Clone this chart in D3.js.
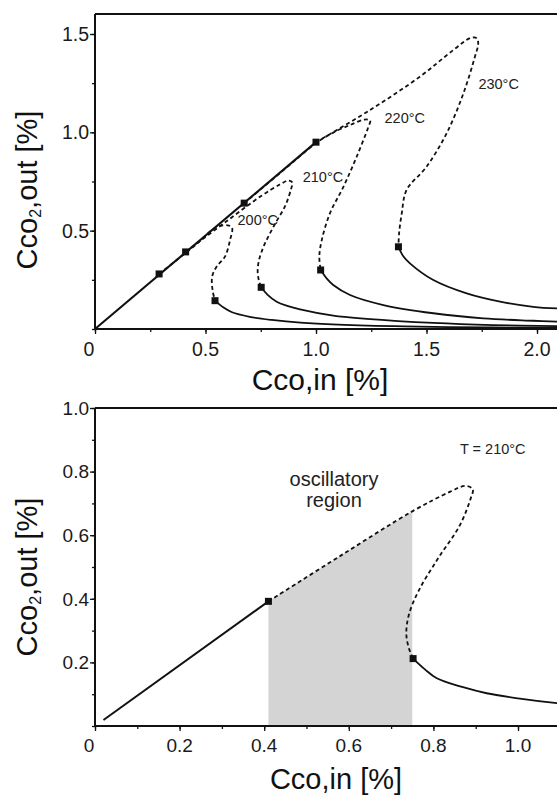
<!DOCTYPE html>
<html><head><meta charset="utf-8">
<script src="https://cdn.jsdelivr.net/npm/d3@7/dist/d3.min.js"></script>
<style>
html,body{margin:0;padding:0;background:#fff;}
svg{display:block;font-family:"Liberation Sans",Arial,Helvetica,sans-serif;}
</style></head>
<body>
<svg id="c" width="557" height="795"></svg>
<script>
// ---------- data (top panel: four temperatures) ----------
const temps = ["200°C", "210°C", "220°C", "230°C"];
// stable high-conversion branch (shared diagonal)
const diagX = [0, 1.0];
const diagY = [0, 0.95];
// unstable branches (dashed)
const dash200X = [0.29, 0.45, 0.55, 0.60, 0.62, 0.611, 0.588, 0.55, 0.53, 0.532, 0.543];
const dash200Y = [0.28, 0.423, 0.518, 0.527, 0.515, 0.452, 0.368, 0.317, 0.266, 0.198, 0.144];
const dash210X = [0.41, 0.58, 0.75, 0.84, 0.875, 0.893, 0.888, 0.862, 0.81, 0.765, 0.742, 0.736, 0.742, 0.752];
const dash210Y = [0.392, 0.535, 0.675, 0.737, 0.755, 0.745, 0.715, 0.63, 0.525, 0.425, 0.35, 0.29, 0.245, 0.212];
const dash220X = [0.675, 0.85, 1.0, 1.08, 1.16, 1.22, 1.245, 1.237, 1.184, 1.124, 1.063, 1.026, 1.015, 1.021];
const dash220Y = [0.64, 0.805, 0.945, 1.0, 1.04, 1.065, 1.06, 1.028, 0.876, 0.723, 0.588, 0.452, 0.368, 0.30];
const dash230X = [1.0, 1.244, 1.47, 1.621, 1.70, 1.728, 1.734, 1.719, 1.667, 1.591, 1.5, 1.41, 1.388, 1.376, 1.373];
const dash230Y = [0.95, 1.113, 1.283, 1.418, 1.48, 1.478, 1.45, 1.384, 1.198, 0.995, 0.825, 0.707, 0.588, 0.487, 0.418];
// stable low-conversion branches (solid)
const low200X = [0.543, 0.58, 0.62, 0.70, 0.80, 0.93, 1.10, 1.40, 1.80, 2.10];
const low200Y = [0.144, 0.11, 0.085, 0.062, 0.046, 0.032, 0.022, 0.013, 0.008, 0.006];
const low210X = [0.752, 0.78, 0.822, 0.87, 0.928, 1.078, 1.229, 1.531, 1.80, 2.10];
const low210Y = [0.212, 0.175, 0.139, 0.118, 0.10, 0.068, 0.052, 0.031, 0.02, 0.014];
const low220X = [1.021, 1.05, 1.078, 1.154, 1.305, 1.531, 1.757, 1.983, 2.10];
const low220Y = [0.30, 0.255, 0.224, 0.173, 0.122, 0.08, 0.054, 0.042, 0.037];
const low230X = [1.373, 1.395, 1.425, 1.531, 1.682, 1.833, 1.983, 2.10];
const low230Y = [0.418, 0.37, 0.334, 0.249, 0.181, 0.139, 0.113, 0.104];
// bifurcation markers
const markX = [0.29, 0.41, 0.675, 1.0, 0.543, 0.752, 1.021, 1.373];
const markY = [0.28, 0.392, 0.64, 0.95, 0.144, 0.212, 0.30, 0.418];
// temperature label anchors
const labelX = [0.645, 0.94, 1.31, 1.735];
const labelY = [0.53, 0.745, 1.05, 1.22];
// axis ticks
const topXTicks = [0, 0.5, 1.0, 1.5, 2.0];
const topYTicks = [0.5, 1.0, 1.5];

// ---------- data (bottom panel: T = 210°C) ----------
const botDiagX = [0.02, 0.41];
const botDiagY = [0.019, 0.392];
const botDashX = dash210X;
const botDashY = dash210Y;
const botLowX = [0.752, 0.78, 0.808, 0.87, 0.926, 1.0, 1.092, 1.15];
const botLowY = [0.212, 0.178, 0.15, 0.122, 0.103, 0.087, 0.072, 0.066];
const botMarkX = [0.41, 0.752];
const botMarkY = [0.392, 0.212];
const shadeX = [0.41, 0.58, 0.75];
const shadeY = [0.392, 0.535, 0.675];
const botXTicks = [0, 0.2, 0.4, 0.6, 0.8, 1.0];
const botYTicks = [0.2, 0.4, 0.6, 0.8, 1.0];

const svg = d3.select("#c");
const zip = (xs, ys) => xs.map((x, i) => [x, ys[i]]);

function panel(opts) {
  const g = svg.append("g");
  const x = d3.scaleLinear().domain(opts.xd).range(opts.xr);
  const y = d3.scaleLinear().domain(opts.yd).range(opts.yr);
  const line = d3.line().x(d => x(d[0])).y(d => y(d[1])).curve(d3.curveCatmullRom.alpha(0.5));
  // axes frame
  g.append("line").attr("x1", opts.xr[0]).attr("x2", 557).attr("y1", opts.topY).attr("y2", opts.topY)
    .attr("stroke", "#111").attr("stroke-width", 1.8);
  // minor ticks
  const minX = d3.range(opts.xd[0], 2.3, opts.xMinor).filter(v => x(v) <= 557);
  const minY = d3.range(opts.yd[0], opts.yTop + 1e-9, opts.yMinor);
  const xAx = d3.axisBottom(x).tickValues(minX).tickSize(3).tickFormat("");
  g.append("g").attr("transform", `translate(0,${y(0)})`).call(xAx);
  const yAx = d3.axisLeft(y).tickValues(minY).tickSize(3).tickFormat("");
  g.append("g").attr("transform", `translate(${x(0)},0)`).call(yAx);
  const xMaj = d3.axisBottom(x).tickValues(opts.xt).tickSize(5).tickFormat("");
  g.append("g").attr("transform", `translate(0,${y(0)})`).call(xMaj);
  const yMaj = d3.axisLeft(y).tickValues(opts.yt).tickSize(5).tickFormat("");
  g.append("g").attr("transform", `translate(${x(0)},0)`).call(yMaj);
  g.selectAll(".domain").remove();
  g.selectAll(".tick line").attr("stroke", "#111").attr("stroke-width", 1.3);
  g.append("line").attr("x1", x(0)).attr("x2", 557).attr("y1", y(0)).attr("y2", y(0))
    .attr("stroke", "#111").attr("stroke-width", 2);
  g.append("line").attr("x1", x(0)).attr("x2", x(0)).attr("y1", opts.topY).attr("y2", y(0))
    .attr("stroke", "#111").attr("stroke-width", 2);
  // tick labels
  g.selectAll(".xl").data(opts.xt).enter().append("text")
    .attr("x", d => x(d) + (d === 0 ? -6 : 0)).attr("y", y(0) + opts.xlOff)
    .attr("text-anchor", "middle").attr("font-size", opts.tfs).attr("fill", "#1a1a1a")
    .text(d => d === 0 ? "0" : d3.format(".1f")(d));
  g.selectAll(".yl").data(opts.yt).enter().append("text")
    .attr("x", x(0) - 6).attr("y", d => y(d)).attr("dy", "0.36em")
    .attr("text-anchor", "end").attr("font-size", opts.tfs).attr("fill", "#1a1a1a")
    .text(d => d3.format(".1f")(d));
  // axis titles
  g.append("text").attr("x", opts.xTitleX).attr("y", opts.xTitleY).attr("text-anchor", "middle")
    .attr("font-size", opts.afs).attr("fill", "#111").text("Cco,in [%]");
  const yt = g.append("text").attr("transform", `translate(${opts.yTitleX},${opts.yTitleY}) rotate(-90)`)
    .attr("text-anchor", "middle").attr("font-size", 29).attr("fill", "#111");
  yt.append("tspan").text("Cco");
  yt.append("tspan").attr("font-size", 16).attr("dy", 4).text("2");
  yt.append("tspan").attr("dy", -4).text(",out [%]");
  return {g, x, y, line};
}

const solidStyle = p => p.attr("fill", "none").attr("stroke", "#111").attr("stroke-width", 1.8);
const dashStyle = p => p.attr("fill", "none").attr("stroke", "#111").attr("stroke-width", 1.8).attr("stroke-dasharray", "4,3");

// ---------- top panel ----------
const T = panel({xd: [0, 2], xr: [95, 537], yd: [0, 1.5], yr: [329, 34], topY: 14, yTop: 1.6,
  xMinor: 0.25, yMinor: 0.25, xt: topXTicks, yt: topYTicks, tfs: 19.5, xlOff: 27, afs: 30,
  xTitleX: 320, xTitleY: 390, yTitleX: 37, yTitleY: 190});

[zip(dash200X, dash200Y), zip(dash210X, dash210Y), zip(dash220X, dash220Y), zip(dash230X, dash230Y)]
  .forEach(d => T.g.append("path").datum(d).attr("d", T.line).call(dashStyle));
[zip(low200X, low200Y), zip(low210X, low210Y), zip(low220X, low220Y), zip(low230X, low230Y)]
  .forEach(d => T.g.append("path").datum(d).attr("d", T.line).call(solidStyle));
T.g.append("path").datum(zip(diagX, diagY)).attr("d", T.line).call(solidStyle).attr("stroke-width", 2.1);
T.g.selectAll(".mk").data(zip(markX, markY)).enter().append("rect")
  .attr("x", d => T.x(d[0]) - 3.5).attr("y", d => T.y(d[1]) - 3.5).attr("width", 7).attr("height", 7).attr("fill", "#111");
T.g.selectAll(".tl").data(temps).enter().append("text")
  .attr("x", (d, i) => T.x(labelX[i])).attr("y", (d, i) => T.y(labelY[i]))
  .attr("font-size", 14.5).attr("fill", "#222").text(d => d);

// ---------- bottom panel ----------
const B = panel({xd: [0, 1], xr: [95, 518], yd: [0, 1], yr: [726, 408], topY: 408, yTop: 1.0,
  xMinor: 0.1, yMinor: 0.1, xt: botXTicks, yt: botYTicks, tfs: 19, xlOff: 26, afs: 29,
  xTitleX: 336, xTitleY: 789, yTitleX: 37, yTitleY: 577});
B.g.insert("path", ":first-child").datum(zip(shadeX, shadeY))
  .attr("d", d3.area().x(d => B.x(d[0])).y0(B.y(0)).y1(d => B.y(d[1]))).attr("fill", "#d4d4d4");
B.g.append("path").datum(zip(botDashX, botDashY)).attr("d", B.line).call(dashStyle);
B.g.append("path").datum(zip(botLowX, botLowY)).attr("d", B.line).call(solidStyle);
B.g.append("path").datum(zip(botDiagX, botDiagY)).attr("d", B.line).call(solidStyle).attr("stroke-width", 2);
B.g.selectAll(".mk").data(zip(botMarkX, botMarkY)).enter().append("rect")
  .attr("x", d => B.x(d[0]) - 3.5).attr("y", d => B.y(d[1]) - 3.5).attr("width", 7).attr("height", 7).attr("fill", "#111");
B.g.append("text").attr("x", 460).attr("y", 454).attr("font-size", 14.5).attr("fill", "#222").text("T = 210°C");
B.g.append("text").attr("x", 334).attr("y", 486).attr("text-anchor", "middle").attr("font-size", 20).attr("fill", "#222").text("oscillatory");
B.g.append("text").attr("x", 334).attr("y", 507).attr("text-anchor", "middle").attr("font-size", 20).attr("fill", "#222").text("region");
</script>
</body></html>
